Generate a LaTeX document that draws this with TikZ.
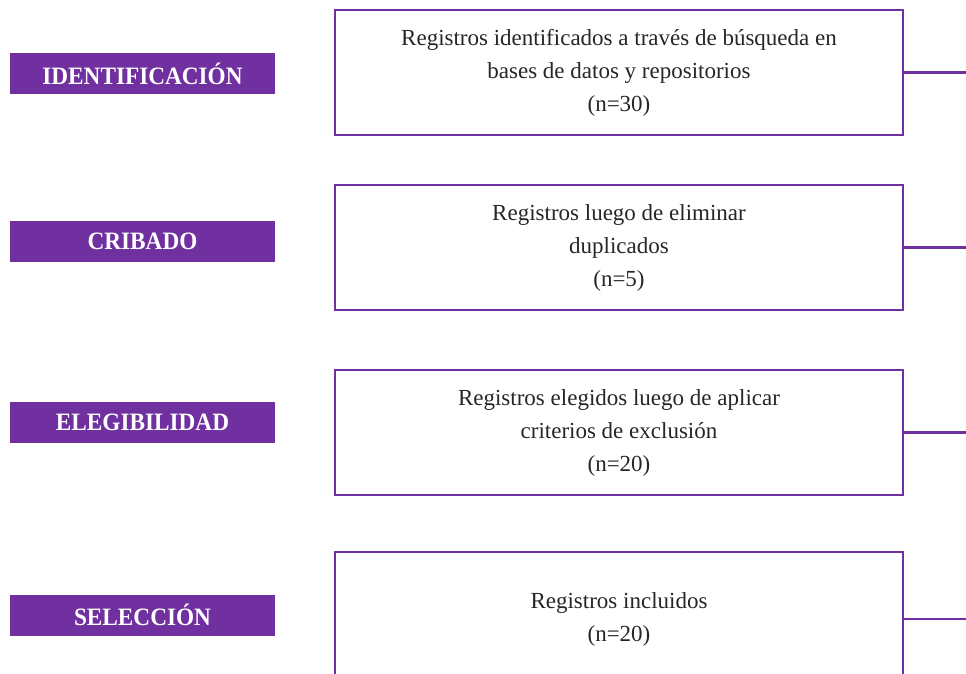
\documentclass[tikz,border=0pt]{standalone}
\usepackage{fontspec}
\setmainfont{Liberation Serif}
\newfontfamily\stagefont{Liberation Serif}[FakeStretch=0.93]
\definecolor{prpl}{HTML}{7030A0}
\begin{document}
\begin{tikzpicture}[x=1pt,y=-1pt,
  stage/.style={rectangle, fill=prpl, text=white, minimum width=265pt, minimum height=41pt, inner sep=0pt, font=\stagefont\fontsize{25}{28}\selectfont\bfseries},
  recbox/.style={rectangle, draw=prpl, line width=2.6pt, fill=white, minimum width=568pt, minimum height=125pt, inner sep=0pt, align=center, font=\fontsize{23}{33}\selectfont, text=black!85},
  link/.style={draw=prpl, line width=2.6pt}]
\useasboundingbox (0,0) rectangle (966,674);
\clip (0,0) rectangle (966,674);
\node[stage] (s1) at (142.5,73.5) {IDENTIFICACIÓN};
\node[stage] (s2) at (142.5,241.5) {CRIBADO};
\node[stage] (s3) at (142.5,422) {ELEGIBILIDAD};
\node[stage] (s4) at (142.5,615) {SELECCIÓN};
\node[recbox] (b1) at (619,72.5) {Registros identificados a través de búsqueda en\\bases de datos y repositorios\\(n=30)};
\node[recbox] (b2) at (619,247.5) {Registros luego de eliminar\\duplicados\\(n=5)};
\node[recbox] (b3) at (619,432.5) {Registros elegidos luego de aplicar\\criterios de exclusión\\(n=20)};
\node[recbox, minimum height=134pt] (b4) at (619,619) {Registros incluidos\\(n=20)};
\coordinate (e1) at (970,72.5);
\coordinate (e2) at (970,247.5);
\coordinate (e3) at (970,432.5);
\coordinate (e4) at (970,619);
\draw[link] (b1.east) -- (e1);
\draw[link] (b2.east) -- (e2);
\draw[link] (b3.east) -- (e3);
\draw[link] (b4.east) -- (e4);
\end{tikzpicture}
\end{document}
